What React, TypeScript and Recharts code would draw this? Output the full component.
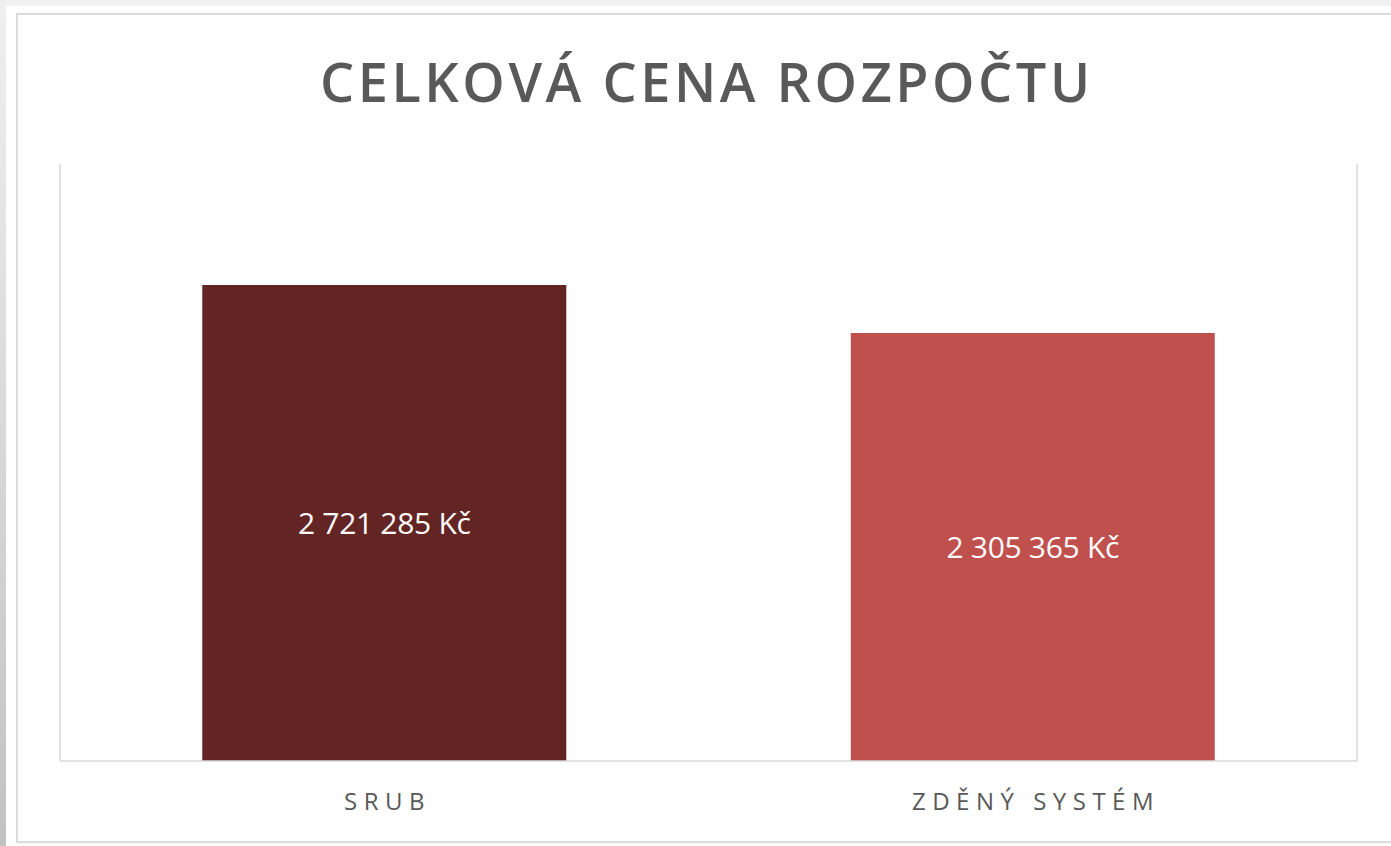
import React from 'react';
import { BarChart, Bar, XAxis, YAxis, CartesianGrid, Cell, LabelList } from 'recharts';

const categories = ['SRUB', 'ZDĚNÝ SYSTÉM'];
const values = [2721285, 2305365];
const barColors = ['#632523', '#C0504D'];
const yDomain: [number, number] = [-1403255, 3769750];
const gridTicks = [0, 1, 2];
const title = 'CELKOVÁ CENA ROZPOČTU';

const data = categories.map((name, i) => ({
  name,
  value: values[i],
  range: [yDomain[0], values[i]],
}));

const formatKc = (v: number) =>
  String(v).replace(/\B(?=(\d{3})+(?!\d))/g, ' ') + ' Kč';

const FONT = '"Open Sans", "Noto Sans", sans-serif';

const Tick = (props: any) => {
  const { x, y, payload } = props;
  return (
    <text
      x={x + 3.25}
      y={y + 41}
      textAnchor="middle"
      fill="#595959"
      fontFamily={FONT}
      fontSize={24}
      fontWeight={500}
      style={{ letterSpacing: '6.5px' }}
    >
      {payload.value}
    </text>
  );
};

const ValueLabel = (props: any) => {
  const { x, y, width, height, value } = props;
  return (
    <text
      x={x + width / 2}
      y={y + height / 2 + 11}
      textAnchor="middle"
      fill="#ffffff"
      fontFamily={FONT}
      fontSize={30}
      fontWeight={500}
      style={{ letterSpacing: '-0.3px' }}
    >
      {formatKc(value)}
    </text>
  );
};

export default function App() {
  return (
    <div style={{ position: 'fixed', left: 0, top: 0, width: 1391, height: 846, background: '#f2f2f2', overflow: 'hidden' }}>
      <div style={{ position: 'absolute', left: 0, top: 0, width: 6, height: 846, background: 'linear-gradient(#f0f0f0, #c2c2c2)' }} />
      <div style={{ position: 'absolute', left: 6, top: 6, width: 1385, height: 840, background: '#ffffff' }} />
      <div style={{ position: 'absolute', left: 16, top: 13, width: 1400, height: 830, border: '2px solid #dcdcdc', boxShadow: '0 0 1px #e8e8e8', boxSizing: 'border-box' }} />
      <svg width={1391} height={846} style={{ position: 'absolute', left: 0, top: 0 }}>
        <text
          x={705}
          y={102}
          textAnchor="middle"
          fill="#595959"
          fontFamily={FONT}
          fontSize={54}
          fontWeight={600}
          textLength={770}
          lengthAdjust="spacing"
        >
          {title}
        </text>
      </svg>
      <div style={{ position: 'absolute', left: 0, top: 0 }}>
        <BarChart
          width={1391}
          height={846}
          data={data}
          margin={{ top: 164, right: 34, bottom: 45, left: 60 }}
          barCategoryGap="21.94%"
        >
          <CartesianGrid xAxisId="grid" horizontal={false} vertical={true} stroke="#d9d9d9" strokeWidth={1.5} />
          <XAxis xAxisId="grid" type="number" domain={[0, 2]} ticks={gridTicks} hide />
          <XAxis
            dataKey="name"
            interval={0}
            height={40}
            axisLine={{ stroke: '#d9d9d9', strokeWidth: 1.5 }}
            tickLine={false}
            tick={<Tick />}
          />
          <YAxis hide type="number" domain={yDomain} allowDataOverflow />
          <Bar dataKey="range" isAnimationActive={false}>
            {data.map((d, i) => (
              <Cell key={d.name} fill={barColors[i]} />
            ))}
            <LabelList dataKey="value" content={<ValueLabel />} />
          </Bar>
        </BarChart>
      </div>
    </div>
  );
}
